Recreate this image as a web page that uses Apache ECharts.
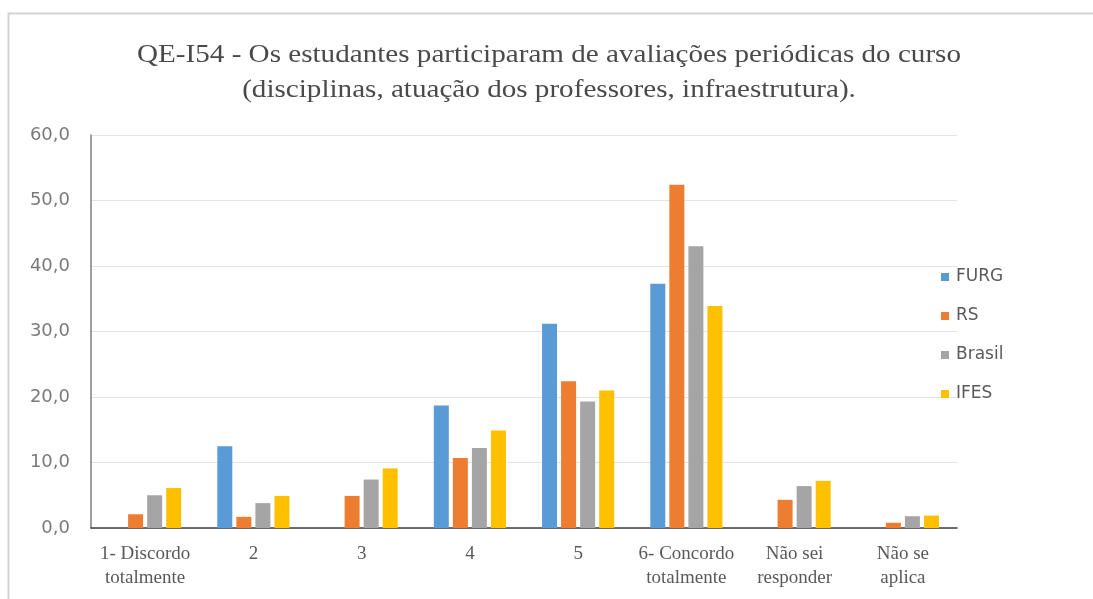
<!DOCTYPE html>
<html>
<head>
<meta charset="utf-8">
<script src="https://cdn.jsdelivr.net/npm/echarts@6/dist/echarts.min.js"></script>
<style>
  html, body { margin: 0; padding: 0; background: #ffffff; }
  #chart { width: 1093px; height: 599px; }
</style>
</head>
<body>
<div id="chart"></div>
<script>
// Response categories (x axis)
const categories = [
  '1- Discordo\ntotalmente', '2', '3', '4', '5',
  '6- Concordo\ntotalmente', 'Não sei\nresponder', 'Não se\naplica'
];

// Percentages per group
const furg   = [null, 12.5, null, 18.7, 31.2, 37.3, null, null];
const rs     = [2.1, 1.7, 4.9, 10.7, 22.4, 52.4, 4.3, 0.8];
const brasil = [5.0, 3.8, 7.4, 12.2, 19.3, 43.0, 6.4, 1.8];
const ifes   = [6.1, 4.9, 9.1, 14.9, 21.0, 33.9, 7.2, 1.9];

const seriesNames = ['FURG', 'RS', 'Brasil', 'IFES'];
const seriesColors = ['#5B9BD5', '#ED7D31', '#A5A5A5', '#FFC000'];
const seriesData = [furg, rs, brasil, ifes];

// Y axis ticks
const yMin = 0, yMax = 60, yStep = 10;

const titleText = 'QE-I54 - Os estudantes participaram de avaliações periódicas do curso\n(disciplinas, atuação dos professores, infraestrutura).';

const chart = echarts.init(document.getElementById('chart'), null, { renderer: 'canvas' });

chart.setOption({
  backgroundColor: '#ffffff',
  animation: false,
  graphic: [
    {
      // chart frame
      type: 'rect',
      shape: { x: 8.5, y: 13.5, width: 1200, height: 700 },
      style: { fill: 'none', stroke: '#d4d4d4', lineWidth: 2 },
      silent: true,
      z: -1
    },
    {
      // two-line title, slightly widened
      type: 'text',
      x: 549,
      y: 38,
      scaleX: 1.12,
      style: {
        text: titleText,
        textAlign: 'center',
        textVerticalAlign: 'top',
        font: '26px "Liberation Serif"',
        lineHeight: 35,
        fill: '#4a4a4a'
      },
      silent: true
    }
  ],
  legend: {
    orient: 'vertical',
    left: 936,
    top: 262,
    itemWidth: 8,
    itemHeight: 8,
    itemGap: 19,
    icon: 'rect',
    data: seriesNames,
    textStyle: {
      fontFamily: 'DejaVu Sans',
      fontSize: 17,
      lineHeight: 20,
      color: '#595959',
      padding: [0, 0, 0, 2]
    }
  },
  grid: {
    left: 91,
    right: 136,
    top: 135,
    bottom: 71
  },
  xAxis: {
    type: 'category',
    data: categories,
    axisLine: { show: true, lineStyle: { color: '#404040', width: 1.5 } },
    axisTick: { show: false },
    axisLabel: {
      interval: 0,
      margin: 14,
      fontFamily: 'Liberation Serif',
      fontSize: 19,
      lineHeight: 24,
      color: '#595959'
    }
  },
  yAxis: {
    type: 'value',
    min: yMin,
    max: yMax,
    interval: yStep,
    axisLine: { show: true, lineStyle: { color: '#7f7f7f', width: 1.5 } },
    axisTick: { show: false },
    splitLine: { lineStyle: { color: '#e3e3e3', width: 1 } },
    axisLabel: {
      margin: 21,
      fontFamily: 'DejaVu Sans',
      fontSize: 18,
      color: '#7a7a7a',
      formatter: v => v.toFixed(1).replace('.', ',')
    }
  },
  series: seriesNames.map((name, i) => ({
    name: name,
    type: 'bar',
    data: seriesData[i],
    barWidth: 15,
    barGap: '27%',
    itemStyle: { color: seriesColors[i] }
  }))
});
</script>
</body>
</html>
